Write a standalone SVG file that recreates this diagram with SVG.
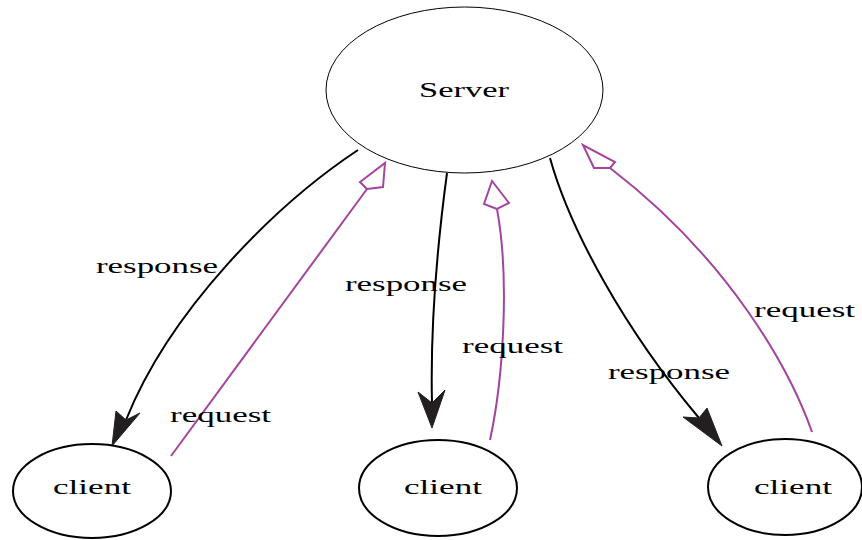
<svg xmlns="http://www.w3.org/2000/svg" width="862" height="540" viewBox="0 0 862 540">
<style>
.node { fill: #ffffff; stroke: #000000; }
.server { stroke-width: 1; }
.client { stroke-width: 2; }
.lbl { font-family: "Liberation Serif", "Times New Roman", serif; font-size: 21px; fill: #000000; }
.resp { fill: none; stroke: #000000; stroke-width: 2; }
.req { fill: none; stroke: #a3449d; stroke-width: 2; }
.resphead { fill: #231f20; stroke: #231f20; stroke-width: 1; stroke-linejoin: miter; }
.reqhead { fill: #ffffff; stroke: #a3449d; stroke-width: 2; stroke-linejoin: miter; }
</style>
<rect width="862" height="540" fill="#ffffff"/>
<g id="connectors">
  <path class="resp" d="M358,150 C275,205 170,310 126,420"/>
  <polygon class="resphead" points="112,446 116,411 126,420 140,413"/>
  <path class="req" d="M171,456 L367,189"/>
  <polygon class="reqhead" points="367,189 360,182 385,163 383,187"/>
  <path class="resp" d="M447,173 C438,240 430,320 432,403"/>
  <polygon class="resphead" points="432,428 418,392 432,403 445,390"/>
  <path class="req" d="M490,440 C503,380 510,280 497,209"/>
  <polygon class="reqhead" points="497,209 484,204 492,181 509,203"/>
  <path class="resp" d="M550,158 C570,230 625,330 699,418"/>
  <polygon class="resphead" points="722,446 683,417 699,418 707,408"/>
  <path class="req" d="M812,432 C790,370 730,260 610,168"/>
  <polygon class="reqhead" points="610,168 594,168 583,145 615,162"/>
  <text class="lbl" x="96" y="273" textLength="122" lengthAdjust="spacingAndGlyphs">response</text>
  <text class="lbl" x="170" y="422" textLength="101" lengthAdjust="spacingAndGlyphs">request</text>
  <text class="lbl" x="345" y="291" textLength="122" lengthAdjust="spacingAndGlyphs">response</text>
  <text class="lbl" x="462" y="353" textLength="101" lengthAdjust="spacingAndGlyphs">request</text>
  <text class="lbl" x="608" y="379" textLength="122" lengthAdjust="spacingAndGlyphs">response</text>
  <text class="lbl" x="754" y="317" textLength="101" lengthAdjust="spacingAndGlyphs">request</text>
</g>
<g id="server">
  <ellipse class="node server" cx="464.5" cy="90" rx="138.5" ry="83"/>
  <text class="lbl" x="419" y="97" textLength="90" lengthAdjust="spacingAndGlyphs">Server</text>
</g>
<g id="client1">
  <ellipse class="node client" cx="92" cy="491" rx="79" ry="47"/>
  <text class="lbl" x="53" y="494" textLength="78" lengthAdjust="spacingAndGlyphs">client</text>
</g>
<g id="client2">
  <ellipse class="node client" cx="438" cy="488" rx="79" ry="48"/>
  <text class="lbl" x="404" y="494" textLength="78" lengthAdjust="spacingAndGlyphs">client</text>
</g>
<g id="client3">
  <ellipse class="node client" cx="785" cy="487" rx="77" ry="48"/>
  <text class="lbl" x="754" y="494" textLength="78" lengthAdjust="spacingAndGlyphs">client</text>
</g>
</svg>
